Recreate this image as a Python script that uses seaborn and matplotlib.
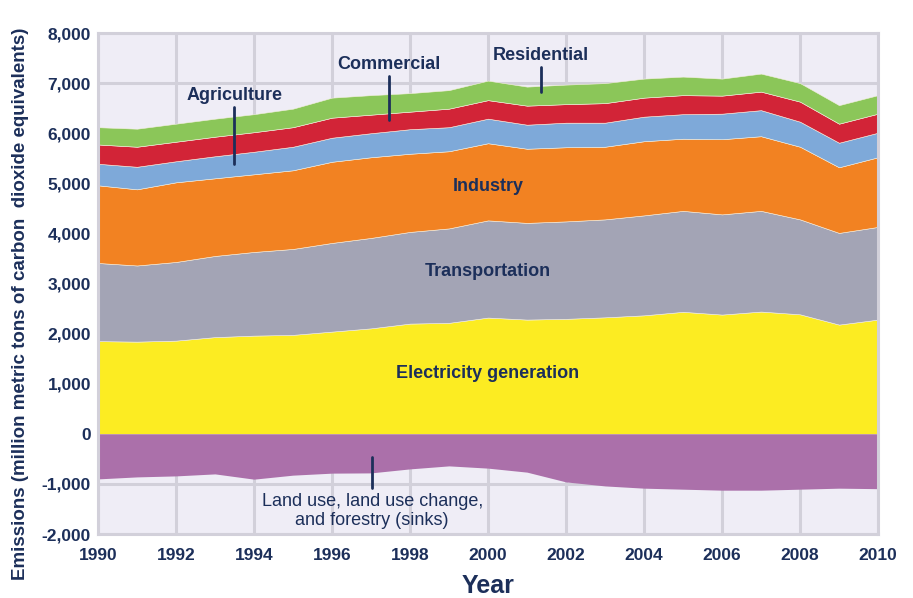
import numpy as np
import pandas as pd
import matplotlib
matplotlib.use("Agg")
import matplotlib.pyplot as plt
import seaborn as sns

years = list(range(1990, 2011))

electricity = [1850, 1840, 1860, 1930, 1960, 1975, 2040, 2105, 2200, 2215, 2320,
               2280, 2295, 2325, 2365, 2435, 2380, 2440, 2385, 2180, 2280]
transportation = [1560, 1520, 1570, 1620, 1670, 1715, 1770, 1805, 1830, 1885, 1940,
                  1930, 1945, 1955, 1995, 2015, 2000, 2010, 1895, 1830, 1850]
industry = [1550, 1520, 1590, 1550, 1550, 1570, 1620, 1610, 1560, 1540, 1540,
            1480, 1480, 1450, 1480, 1440, 1500, 1490, 1450, 1310, 1390]
agriculture = [430, 450, 420, 440, 450, 470, 480, 480, 490, 480, 490,
               480, 490, 480, 490, 490, 510, 520, 500, 490, 490]
commercial = [385, 400, 390, 390, 390, 390, 400, 370, 350, 370, 370,
              380, 370, 390, 380, 380, 360, 370, 400, 380, 380]
residential = [345, 360, 360, 360, 360, 370, 400, 390, 370, 370, 390,
               380, 390, 400, 380, 370, 340, 360, 370, 370, 370]
land_use = [-900, -860, -840, -800, -905, -825, -785, -780, -700, -640, -685,
            -765, -960, -1040, -1085, -1105, -1125, -1125, -1105, -1085, -1095]

sectors = ["Electricity generation", "Transportation", "Industry",
           "Agriculture", "Commercial", "Residential"]
colors = ["#FCEC22", "#A3A4B5", "#F28222", "#7EA9D9", "#D22437", "#8BC659"]
sink_color = "#AB70AA"
navy = "#1C2F5A"

df = pd.DataFrame({"year": years, "Electricity generation": electricity,
                   "Transportation": transportation, "Industry": industry,
                   "Agriculture": agriculture, "Commercial": commercial,
                   "Residential": residential, "Land use": land_use})

sns.set_style("whitegrid", {"axes.facecolor": "#EFEDF6", "grid.color": "#D2D0DA",
                            "axes.edgecolor": "#D2D0DA"})
plt.rcParams['font.family'] = ['Liberation Sans', 'DejaVu Sans']

fig = plt.figure(figsize=(9.13, 5.98), dpi=100)
ax = fig.add_axes([0.1073, 0.107, 0.8544, 0.8378])

ax.stackplot(df["year"], [df[s] for s in sectors], colors=colors,
             edgecolor="#F5F0E0", linewidth=0.4, zorder=2)
ax.fill_between(df["year"], 0, df["Land use"], color=sink_color, linewidth=0, zorder=2)

ax.set_xlim(1990, 2010)
ax.set_ylim(-2000, 8000)
ax.set_xticks(range(1990, 2011, 2))
ax.set_yticks(range(-2000, 8001, 1000))
ax.set_yticklabels([f"{v:,}" for v in range(-2000, 8001, 1000)])
ax.grid(True, linewidth=2.2, color="#D2D0DA", zorder=0)
ax.set_axisbelow(True)
for sp in ax.spines.values():
    sp.set_color("#D2D0DA")
    sp.set_linewidth(2.2)
ax.tick_params(axis="x", length=0, pad=10)
ax.tick_params(axis="y", length=0, pad=5)
for lab in ax.get_xticklabels() + ax.get_yticklabels():
    lab.set_fontweight("bold")
    lab.set_fontsize(12.5)
    lab.set_color(navy)

ax.set_xlabel("Year", fontsize=18, fontweight="bold", color=navy, labelpad=8)
ax.set_ylabel("Emissions (million metric tons of carbon  dioxide equivalents)",
              fontsize=13.5, fontweight="bold", color=navy)
ax.yaxis.set_label_coords(-0.088, 0.46)

lab_kw = dict(fontsize=13, fontweight="bold", color=navy, ha="center", va="center", zorder=5)
ax.text(2000, 4940, "Industry", **lab_kw)
ax.text(2000, 3240, "Transportation", **lab_kw)
ax.text(2000, 1200, "Electricity generation", **lab_kw)
ax.text(1993.5, 6760, "Agriculture", **lab_kw)
ax.plot([1993.5, 1993.5], [6520, 5380], color=navy, lw=2, zorder=5)
ax.text(1997.46, 7380, "Commercial", **lab_kw)
ax.plot([1997.46, 1997.46], [7140, 6260], color=navy, lw=2, zorder=5)
ax.text(2001.36, 7560, "Residential", **lab_kw)
ax.plot([2001.36, 2001.36], [7320, 6820], color=navy, lw=2, zorder=5)
ax.plot([1997.03, 1997.03], [-460, -1080], color=navy, lw=2, zorder=5)
ax.text(1997.03, -1540, "Land use, land use change,\nand forestry (sinks)",
        fontsize=13, color=navy, ha="center", va="center", linespacing=1.15, zorder=5)

fig.savefig("out.png", dpi=100)
